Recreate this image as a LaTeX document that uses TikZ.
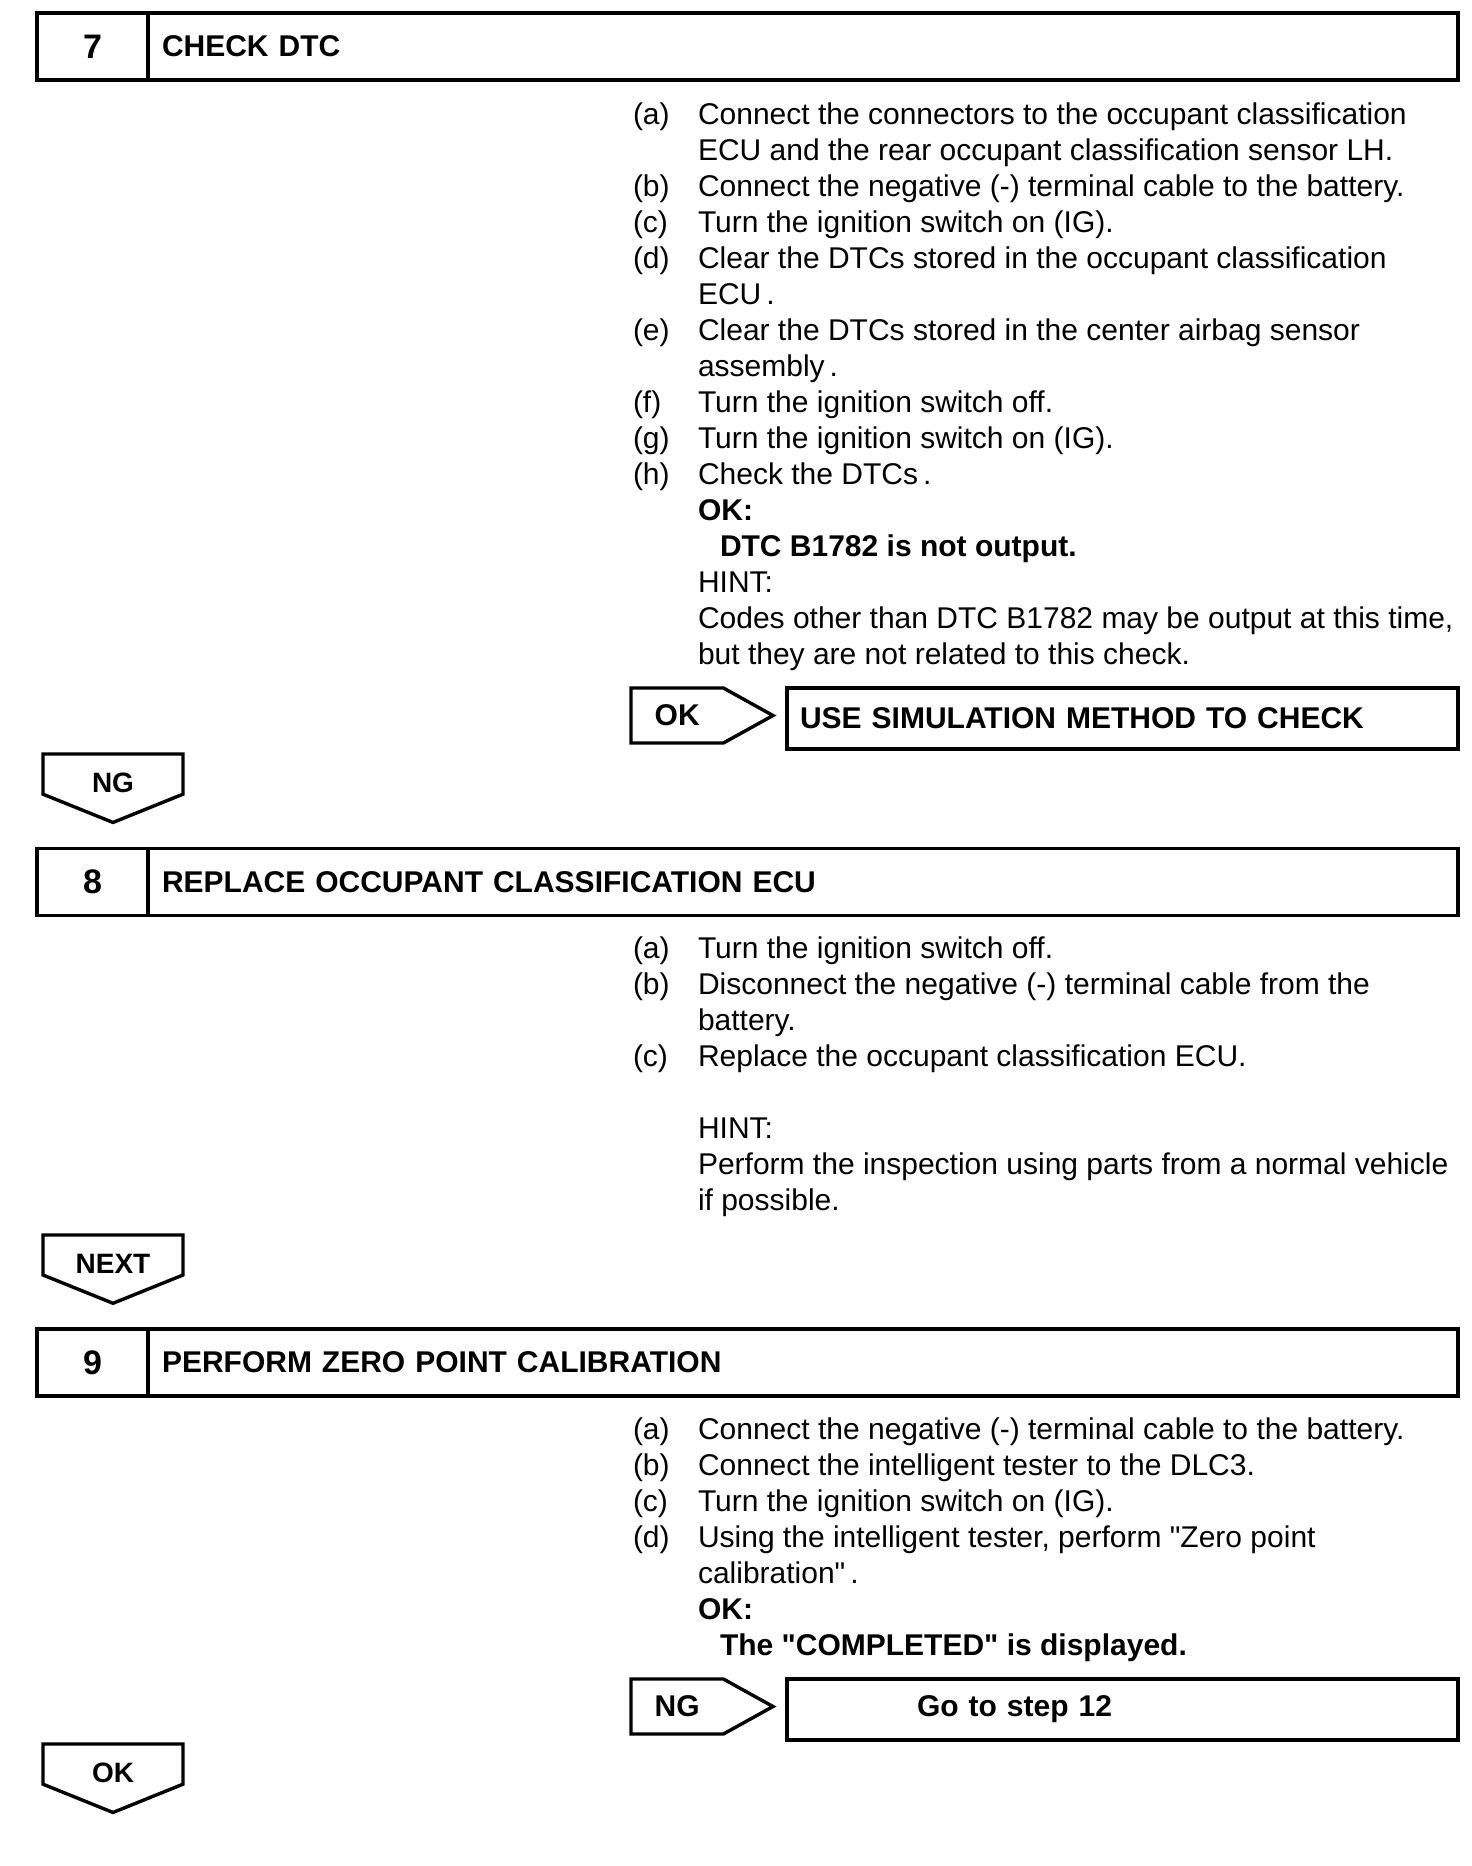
\documentclass[tikz,border=0pt]{standalone}
\usepackage{fontspec}
\defaultfontfeatures[\rmfamily]{}
\setmainfont{Liberation Sans}
\usepackage{tikz}
\usetikzlibrary{positioning, shapes.symbols}

\begin{document}
\begin{tikzpicture}[x=1pt, y=-1pt,
    every node/.style={outer sep=0pt},
    num/.style={draw, line width=3.8pt, minimum width=111pt, minimum height=67pt, font=\bfseries\fontsize{34}{36}\selectfont},
    head/.style={draw, line width=3.8pt, minimum height=67pt, text width=1282pt, inner xsep=14pt, align=left, font=\bfseries\fontsize{30}{36}\selectfont},
    items/.style={anchor=north west, inner sep=0pt, align=left, font=\fontsize{30}{36}\selectfont},
    down/.style={draw, line width=3.4pt, shape=signal, signal to=south, signal pointer angle=136, minimum width=140pt, minimum height=50pt, inner ysep=2pt, text height=36pt, text depth=0pt, font=\bfseries\fontsize{28}{30}\selectfont},
    side/.style={draw, line width=3.4pt, shape=signal, signal to=east, signal pointer angle=58, minimum width=142pt, minimum height=55pt, font=\bfseries\fontsize{30}{36}\selectfont},
    res/.style={draw, line width=3.8pt, minimum height=61pt, text width=645pt, inner xsep=13pt, align=left, font=\bfseries\fontsize{30}{36}\selectfont}]
  \useasboundingbox (0,0) rectangle (1472,1866);

  % step 7
  \node[num, anchor=north west] (n7) at (37,13) {7};
  \node[head, right=0pt of n7] (h7) {CHECK DTC};
  \node[items] (l7) at (633,99) {\strut(a)\\ \strut\\ (b)\\ (c)\\ (d)\\ \strut\\ (e)\\ \strut\\ (f)\\ (g)\\ (h)};
  \node[items] (t7) at (698,99) {\strut Connect the connectors to the occupant classification\\
    ECU and the rear occupant classification sensor LH.\\
    Connect the negative (-) terminal cable to the battery.\\
    Turn the ignition switch on (IG).\\
    Clear the DTCs stored in the occupant classification\\
    ECU\,.\\
    Clear the DTCs stored in the center airbag sensor\\
    assembly\,.\\
    Turn the ignition switch off.\\
    Turn the ignition switch on (IG).\\
    Check the DTCs\,.\\
    \textbf{OK:}\\
    \hspace*{22pt}\textbf{DTC B1782 is not output.}\\
    HINT:\\
    Codes other than DTC B1782 may be output at this time,\\
    but they are not related to this check.};
  \node[side, anchor=west] (ok7) at (631,715.5) {OK};
  \node[res, right=14pt of ok7, yshift=-3pt] (r7) {USE SIMULATION METHOD TO CHECK};
  \node[down, anchor=north] (ng7) at (113,754) {NG};

  % step 8
  \node[num, anchor=north west] (n8) at (37,848.5) {8};
  \node[head, right=0pt of n8] (h8) {REPLACE OCCUPANT CLASSIFICATION ECU};
  \node[items] (l8) at (633,933) {\strut(a)\\ (b)\\ \strut\\ (c)};
  \node[items] (t8) at (698,933) {\strut Turn the ignition switch off.\\
    Disconnect the negative (-) terminal cable from the\\
    battery.\\
    Replace the occupant classification ECU.\\
    \strut\\
    HINT:\\
    Perform the inspection using parts from a normal vehicle\\
    if possible.};
  \node[down, anchor=north] (next8) at (113,1235) {NEXT};

  % step 9
  \node[num, anchor=north west] (n9) at (37,1329) {9};
  \node[head, right=0pt of n9] (h9) {PERFORM ZERO POINT CALIBRATION};
  \node[items] (l9) at (633,1414) {\strut(a)\\ (b)\\ (c)\\ (d)};
  \node[items] (t9) at (698,1414) {\strut Connect the negative (-) terminal cable to the battery.\\
    Connect the intelligent tester to the DLC3.\\
    Turn the ignition switch on (IG).\\
    Using the intelligent tester, perform "Zero point\\
    calibration"\,.\\
    \textbf{OK:}\\
    \hspace*{22pt}\textbf{The "COMPLETED" is displayed.}};
  \node[side, anchor=west] (ng9) at (631,1706.5) {NG};
  \node[res, right=14pt of ng9, yshift=-3pt] (r9) {\hspace*{117pt}Go to step 12};
  \node[down, anchor=north] (ok9) at (113,1744) {OK};
\end{tikzpicture}
\end{document}
